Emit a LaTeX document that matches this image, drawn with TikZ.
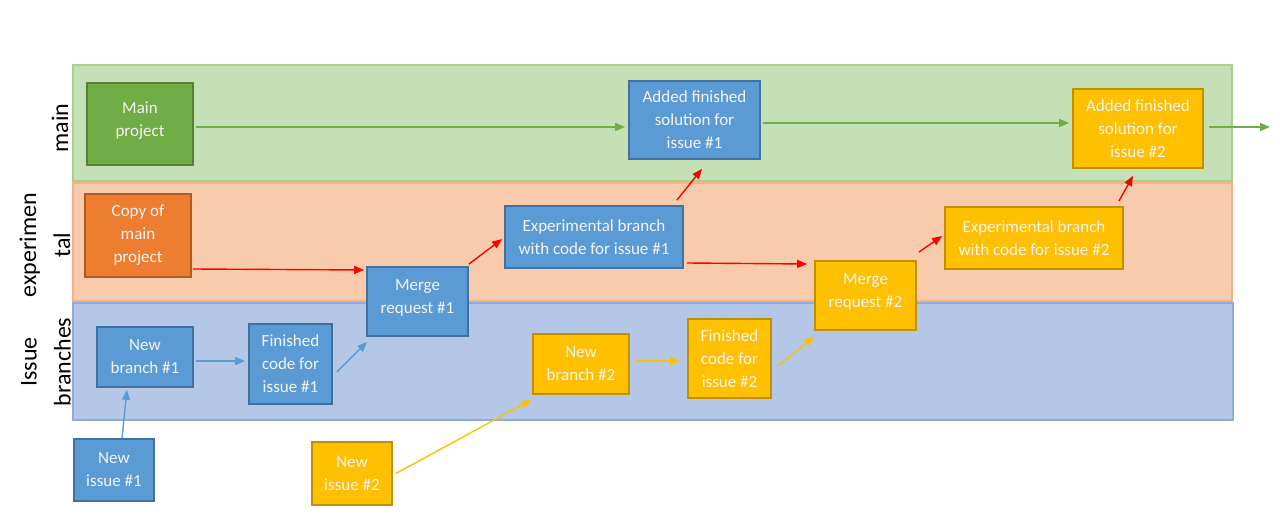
\documentclass[tikz,border=0pt]{standalone}
\usepackage{fontspec}
\setmainfont{Carlito}
\usetikzlibrary{arrows.meta,calc}
\definecolor{lgreen}{HTML}{C5E0B4}
\definecolor{lgreenb}{HTML}{A9D18E}
\definecolor{lorange}{HTML}{F8CBAD}
\definecolor{lorangeb}{HTML}{F4B183}
\definecolor{lblue}{HTML}{B4C7E7}
\definecolor{lblueb}{HTML}{8FAADC}
\definecolor{cgreen}{HTML}{70AD47}
\definecolor{cgreenb}{HTML}{548235}
\definecolor{corange}{HTML}{ED7D31}
\definecolor{corangeb}{HTML}{AE5A21}
\definecolor{cblue}{HTML}{5B9BD5}
\definecolor{cblueb}{HTML}{41719C}
\definecolor{cyel}{HTML}{FFC000}
\definecolor{cyelb}{HTML}{BF9000}
\definecolor{txt}{HTML}{F4F4F4}
\begin{document}
\begin{tikzpicture}[x=1pt,y=-1pt,
  lane/.style={line width=1.2pt},
  box/.style={draw, line width=1.8pt, text=txt, align=center, inner sep=0pt,
    font=\fontsize{17}{23}\selectfont},
  gbox/.style={box, fill=cgreen, draw=cgreenb},
  obox/.style={box, fill=corange, draw=corangeb},
  bbox/.style={box, fill=cblue, draw=cblueb},
  ybox/.style={box, fill=cyel, draw=cyelb},
  raised/.style={text depth=10pt},
  arr/.style={line width=1.4pt, -{Triangle[length=10pt,width=8pt]}},
  lanelabel/.style={rotate=90, align=center, font=\fontsize{24}{34}\selectfont}
]
\useasboundingbox (0,0) rectangle (1280,516);
% lanes
\fill[lgreen, draw=lgreenb, lane] (73,65) rectangle (1232,181);
\fill[lorange, draw=lorangeb, lane] (73,183) rectangle (1232,301);
\fill[lblue, draw=lblueb, lane] (73,303) rectangle (1233,420);
\node[lanelabel] (lmain) at (60,128) {main};
\node[lanelabel] (lexp) at (45,245) {experimen\\tal};
\node[lanelabel] (liss) at (46,362) {Issue\\branches};
% boxes
\node[gbox, raised, minimum width=106, minimum height=82] (main) at (140,124) {Main\\project};
\node[obox, minimum width=106, minimum height=83] (copy) at (138,235.5) {Copy of\\main\\project};
\node[bbox, raised, minimum width=101, minimum height=69] (mr1) at (417.5,301.5) {Merge\\request \#1};
\node[bbox, minimum width=178, minimum height=62] (exp1) at (594,237) {Experimental branch\\with code for issue \#1};
\node[bbox, minimum width=131, minimum height=78] (add1) at (694.5,120) {Added finished\\solution for\\issue \#1};
\node[bbox, minimum width=96, minimum height=60] (nb1) at (145,357) {New\\branch \#1};
\node[bbox, minimum width=83, minimum height=80] (fc1) at (290.5,364) {Finished\\code for\\issue \#1};
\node[bbox, minimum width=80, minimum height=62] (ni1) at (114,470) {New\\issue \#1};
\node[ybox, minimum width=80, minimum height=63] (ni2) at (352,473.5) {New\\issue \#2};
\node[ybox, minimum width=96, minimum height=60] (nb2) at (581,364) {New\\branch \#2};
\node[ybox, minimum width=83, minimum height=79] (fc2) at (729.5,358.5) {Finished\\code for\\issue \#2};
\node[ybox, raised, minimum width=101, minimum height=69] (mr2) at (865.5,295.5) {Merge\\request \#2};
\node[ybox, minimum width=178, minimum height=62] (exp2) at (1034,238) {Experimental branch\\with code for issue \#2};
\node[ybox, minimum width=130, minimum height=79] (add2) at (1138,128.5) {Added finished\\solution for\\issue \#2};
\coordinate (gout) at (1270,127);
% green arrows
\draw[arr, cgreen] ($(main.east)+(2,3)$) -- ($(add1.west)+(-3,7)$);
\draw[arr, cgreen] ($(add1.east)+(2,3)$) -- ($(add2.west)+(-3,-5.5)$);
\draw[arr, cgreen] ($(add2.east)+(5,-1.5)$) -- (gout);
% red arrows
\draw[arr, red] ($(copy.east)+(1,33.5)$) -- ($(mr1.west)+(-2,-31.5)$);
\draw[arr, red] ($(mr1.north east)+(0,-2)$) -- ($(exp1.west)+(-2,2)$);
\draw[arr, red] ($(exp1.north east)+(-7,-5)$) -- ($(add1.south)+(7.5,9)$);
\draw[arr, red] ($(exp1.east)+(3,26)$) -- ($(mr2.west)+(-7,-31.5)$);
\draw[arr, red] ($(mr2.north east)+(2,-8)$) -- ($(exp2.west)+(-2,-2)$);
\draw[arr, red] ($(exp2.north east)+(-5,-5)$) -- ($(add2.south)+(-5,7)$);
% blue arrows
\draw[arr, cblue] ($(ni1.north)+(8,0)$) -- ($(nb1.south)+(-18,2)$);
\draw[arr, cblue] ($(nb1.east)+(2,4)$) -- ($(fc1.west)+(-3,-3)$);
\draw[arr, cblue] ($(fc1.east)+(4,8)$) -- ($(mr1.south west)+(1,5)$);
% yellow arrows
\draw[arr, cyel] ($(ni2.east)+(3,0)$) -- ($(nb2.south west)+(-1,5)$);
\draw[arr, cyel] ($(nb2.east)+(6,-3)$) -- ($(fc2.west)+(-7,2.5)$);
\draw[arr, cyel] ($(fc2.east)+(6,7.5)$) -- ($(mr2.south west)+(0,6)$);
\end{tikzpicture}
\end{document}
